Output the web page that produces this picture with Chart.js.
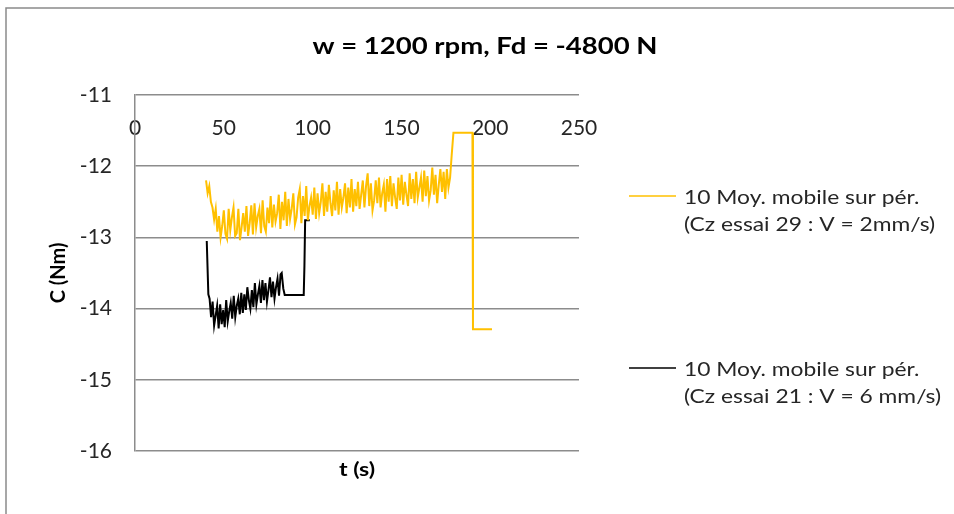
<!DOCTYPE html>
<html>
<head>
<meta charset="utf-8">
<script src="https://cdn.jsdelivr.net/npm/chart.js@4.4.1/dist/chart.umd.min.js"></script>
<style>
  html, body { margin: 0; padding: 0; background: #fff; }
  #wrap { width: 954px; height: 514px; }
</style>
</head>
<body>
<div id="wrap"><canvas id="torqueChart" width="954" height="514"></canvas></div>
<script>
// Chart texts
const chartTitle = "w = 1200 rpm, Fd = -4800 N";
const xTitle = "t (s)";
const yTitle = "C (Nm)";
const seriesNames = [
  ["10 Moy. mobile sur pér.", "(Cz essai 29 : V = 2mm/s)"],
  ["10 Moy. mobile sur pér.", "(Cz essai 21 : V = 6 mm/s)"],
];

// axis ranges
const xTicks = [0, 50, 100, 150, 200, 250];
const yTicks = [-16, -15, -14, -13, -12, -11];

// essai 29 (orange) : noisy part, sampled every 0.91 s from t = 40 s
const orangeStart = 40;
const orangeStep = 0.91;
const orangeNoisy = [
  -12.20, -12.38, -12.28, -12.50, -12.58, -12.75, -12.60, -12.92, -12.70, -13.00,
  -12.84, -12.62, -12.95, -13.02, -12.60, -12.90, -12.72, -12.58, -12.98, -12.94,
  -12.60, -13.04, -12.86, -12.66, -12.92, -12.56, -12.98, -12.80, -12.55, -12.96,
  -12.52, -12.86, -12.70, -12.60, -12.94, -12.48, -12.84, -12.92, -12.58, -12.80,
  -12.42, -12.86, -12.54, -12.78, -12.66, -12.40, -12.88, -12.50, -12.76, -12.36,
  -12.84, -12.46, -12.74, -12.60, -12.38, -12.82, -12.72, -12.44, -12.32, -12.80,
  -12.42, -12.70, -12.28, -12.76, -12.56, -12.44, -12.68, -12.30, -12.74, -12.38,
  -12.66, -12.50, -12.24, -12.70, -12.36, -12.64, -12.26, -12.52, -12.70, -12.34,
  -12.62, -12.22, -12.68, -12.32, -12.58, -12.44, -12.24, -12.66, -12.30, -12.58,
  -12.18, -12.64, -12.32, -12.56, -12.22, -12.60, -12.40, -12.20, -12.58, -12.28,
  -12.10, -12.56, -12.24, -12.62, -12.48, -12.20, -12.52, -12.16, -12.58, -12.38,
  -12.26, -12.64, -12.18, -12.50, -12.14, -12.56, -12.24, -12.44, -12.60, -12.16,
  -12.48, -12.12, -12.54, -12.22, -12.40, -12.56, -12.10, -12.46, -12.18, -12.52,
  -12.08, -12.44, -12.30, -12.16, -12.50, -12.06, -12.42, -12.14, -12.48, -12.34,
  -12.02, -12.40, -12.12, -12.52, -12.26, -12.04, -12.36, -12.08, -12.46, -12.04,
  -12.30, -12.16
];
// end of essai 29 : rise, plateau and drop
const orangeEndT = [178.3, 179.3, 190.0, 190.3, 201.0];
const orangeEndC = [-11.85, -11.53, -11.53, -14.29, -14.29];

// essai 21 (black) : first descent, noisy part every 0.85 s, then steps
const blackStartT = [40.4, 40.7, 41.3];
const blackStartC = [-13.05, -13.30, -13.80];
const blackStart = 42;
const blackStep = 0.85;
const blackNoisy = [
  -13.86, -14.12, -13.90, -14.24, -14.10, -13.96, -14.28, -13.94, -14.22, -14.02,
  -14.26, -13.88, -14.18, -14.04, -13.92, -14.14, -13.82, -14.12, -13.96, -13.86,
  -14.08, -13.78, -14.06, -13.80, -14.02, -13.70, -13.88, -14.00, -13.74, -13.98,
  -13.64, -13.94, -13.80, -13.68, -13.92, -13.60, -13.88, -13.64, -13.90, -13.74,
  -13.56, -13.84, -13.62, -13.86, -13.70, -13.58, -13.82, -13.52
];
const blackEndT = [82.6, 83.5, 84.3, 95.0, 95.4, 95.8, 98.4];
const blackEndC = [-13.50, -13.72, -13.81, -13.81, -13.40, -12.76, -12.76];

// build {x, y} points
function buildPoints(headT, headC, start, step, noisy, tailT, tailC) {
  const pts = [];
  headT.forEach((t, i) => pts.push({ x: t, y: headC[i] }));
  noisy.forEach((c, i) => pts.push({ x: start + i * step, y: c }));
  tailT.forEach((t, i) => pts.push({ x: t, y: tailC[i] }));
  return pts;
}

const orangeData = buildPoints([], [], orangeStart, orangeStep, orangeNoisy, orangeEndT, orangeEndC);
const blackData = buildPoints(blackStartT, blackStartC, blackStart, blackStep, blackNoisy, blackEndT, blackEndC);

const FONT = "Lato, Carlito, Calibri, sans-serif";
const TEXT = "#262626";
const GRID = "#8c8c8c";

// text stretched a bit horizontally, like the original picture
function wideText(ctx, text, x, y, sx) {
  ctx.save();
  ctx.translate(x, y);
  ctx.scale(sx, 1);
  ctx.fillText(text, 0, 0);
  ctx.restore();
}

// frame, title, x title and legend (Excel style)
const excelDecor = {
  id: "excelDecor",
  afterDraw(chart) {
    const { ctx, chartArea } = chart;
    ctx.save();
    // outer frame (cropped on the right and bottom)
    ctx.strokeStyle = "#8a8a8a";
    ctx.lineWidth = 1.5;
    ctx.beginPath();
    ctx.moveTo(6, 520);
    ctx.lineTo(6, 8);
    ctx.lineTo(960, 8);
    ctx.stroke();

    ctx.fillStyle = "#000";
    ctx.textAlign = "center";
    ctx.textBaseline = "middle";
    ctx.font = "bold 22px " + FONT;
    wideText(ctx, chartTitle, 485, 47, 1.25);

    ctx.font = "bold 19px " + FONT;
    wideText(ctx, xTitle, (chartArea.left + chartArea.right) / 2, 470, 1.22);

    // legend
    const rows = [196, 368];
    ctx.font = "19px " + FONT;
    ctx.textAlign = "left";
    chart.data.datasets.forEach((ds, i) => {
      const y = rows[i];
      ctx.strokeStyle = ds.borderColor;
      ctx.lineWidth = 1.5;
      ctx.beginPath();
      ctx.moveTo(629, y);
      ctx.lineTo(676, y);
      ctx.stroke();
      ctx.fillStyle = TEXT;
      wideText(ctx, seriesNames[i][0], 684, y + 2, 1.2);
      wideText(ctx, seriesNames[i][1], 684, y + 29, 1.2);
    });
    ctx.restore();
  },
};

const ctx = document.getElementById("torqueChart").getContext("2d");
const torqueChart = new Chart(ctx, {
  type: "line",
  data: {
    datasets: [
      {
        label: seriesNames[0].join(" "),
        data: orangeData,
        borderColor: "#FFC000",
        borderWidth: 2,
        pointRadius: 0,
        tension: 0,
      },
      {
        label: seriesNames[1].join(" "),
        data: blackData,
        borderColor: "#000000",
        borderWidth: 2,
        pointRadius: 0,
        tension: 0,
      },
    ],
  },
  options: {
    responsive: false,
    animation: false,
    layout: { padding: { left: 35, right: 375, top: 95, bottom: 63 } },
    plugins: {
      legend: { display: false },
      title: { display: false },
      tooltip: { enabled: false },
    },
    scales: {
      x: {
        type: "linear",
        position: { y: -11 },
        min: xTicks[0],
        max: xTicks[xTicks.length - 1],
        afterBuildTicks(scale) {
          scale.ticks = xTicks.map((v) => ({ value: v }));
        },
        afterFit(scale) {
          scale.height = 0;
        },
        grid: { display: false, drawTicks: false },
        border: { display: false },
        ticks: {
          color: TEXT,
          font: { family: FONT, size: 21 },
          padding: 21,
          maxRotation: 0,
        },
      },
      y: {
        type: "linear",
        position: "left",
        min: yTicks[0],
        max: yTicks[yTicks.length - 1],
        afterBuildTicks(scale) {
          scale.ticks = yTicks.map((v) => ({ value: v }));
        },
        afterFit(scale) {
          scale.width = 100;
        },
        grid: { color: GRID, lineWidth: 1.5, drawTicks: false },
        border: { display: true, color: GRID, width: 1.5 },
        ticks: {
          color: TEXT,
          font: { family: FONT, size: 21 },
          padding: 23,
        },
        title: {
          display: true,
          text: yTitle,
          color: "#000",
          font: { family: FONT, size: 20, weight: "bold" },
          padding: { top: 12, bottom: 0 },
        },
      },
    },
  },
  plugins: [excelDecor],
});
</script>
</body>
</html>
